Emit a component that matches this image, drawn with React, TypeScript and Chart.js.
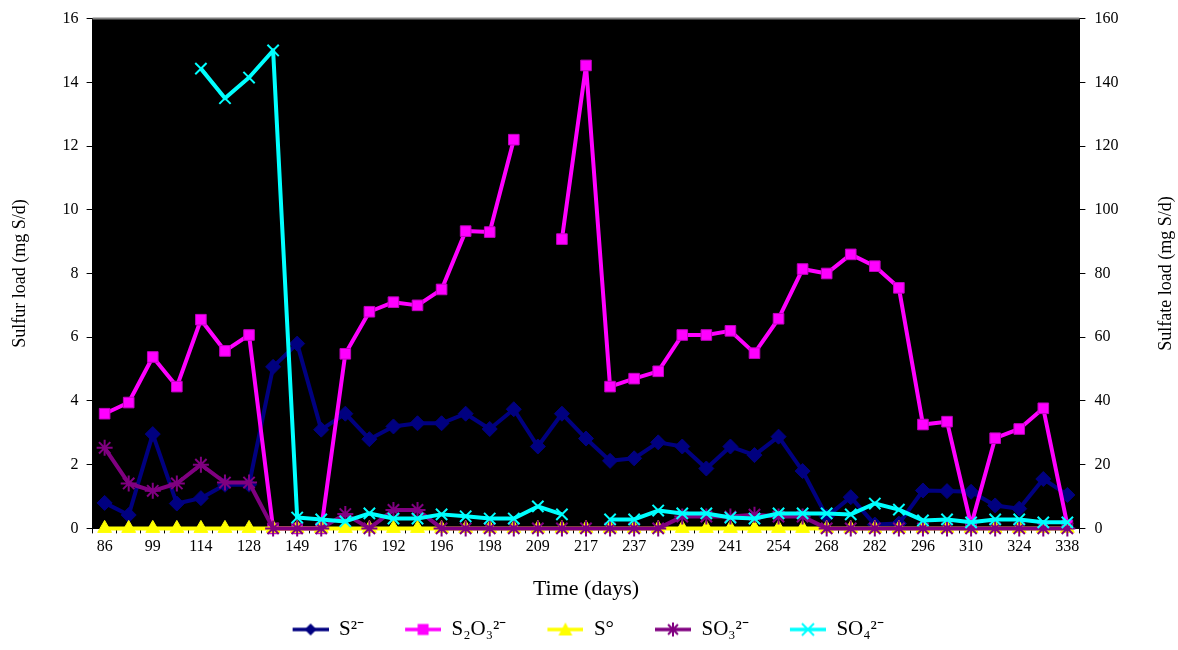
import React, { useEffect, useRef } from 'react';
import { Chart, registerables } from 'chart.js';

Chart.register(...registerables);

const FONT = '"Liberation Serif", "Times New Roman", Times, serif';

// Category labels (every other day label is shown in the original)
const dayLabels = [
  '86', '', '99', '', '114', '', '128', '', '149', '', '176', '', '192', '', '196', '', '198', '', '209', '', '217',
  '', '237', '', '239', '', '241', '', '254', '', '268', '', '282', '', '296', '', '310', '', '324', '', '338',
];

// Left axis series (mg S/d)
const sulfide = [
  0.8, 0.42, 2.96, 0.78, 0.95, 1.37, 1.37, 5.07, 5.8, 3.1, 3.6, 2.8, 3.2, 3.3, 3.3, 3.6, 3.12, 3.74, 2.57, 3.6, 2.82,
  2.12, 2.2, 2.7, 2.57, 1.88, 2.57, 2.3, 2.88, 1.8, 0.37, 0.98, 0.12, 0.15, 1.19, 1.17, 1.15, 0.72, 0.62, 1.55, 1.05,
];
const thiosulfate = [
  3.6, 3.95, 5.38, 4.45, 6.55, 5.57, 6.07, 0, 0, 0, 5.48, 6.8, 7.1, 7.0, 7.5, 9.33, 9.3, 12.2, null, 9.08, 14.53,
  4.45, 4.7, 4.93, 6.07, 6.07, 6.2, 5.5, 6.58, 8.14, 8.0, 8.6, 8.23, 7.55, 3.26, 3.35, 0.1, 2.83, 3.12, 3.77, 0.1,
];
const elementalS = [
  0, 0, 0, 0, 0, 0, 0, 0, 0, 0, 0, 0, 0, 0, 0, 0, 0, 0, 0, 0, 0,
  0, 0, 0, 0, 0, 0, 0, 0, 0, 0, 0, 0, 0, 0, 0, 0, 0, 0, 0, 0,
];
const sulfite = [
  2.53, 1.41, 1.18, 1.41, 2.0, 1.44, 1.44, 0, 0, 0, 0.45, 0, 0.58, 0.58, 0, 0, 0, 0, 0, 0, 0,
  0, 0, 0, 0.37, 0.37, 0.37, 0.43, 0.37, 0.37, 0, 0, 0, 0, 0, 0, 0, 0, 0, 0, 0,
];
// Right axis series (mg S/d)
const sulfate = [
  null, null, null, null, 144.3, 135, 141.5, 150, 3.4, 2.8, 2.2, 4.7, 3.1, 3.1, 4.4, 3.8, 3.1, 3.1, 6.9, 4.4, null,
  2.8, 2.8, 5.6, 4.7, 4.7, 3.4, 3.1, 4.7, 4.7, 4.7, 4.4, 7.8, 5.9, 2.5, 2.8, 1.9, 2.8, 2.8, 1.9, 1.9,
];

const seriesNames = ['S²⁻', 'S₂O₃²⁻', 'S°', 'SO₃²⁻', 'SO₄²⁻'];
const leftTitle = 'Sulfur load (mg S/d)';
const rightTitle = 'Sulfate load (mg S/d)';
const xTitle = 'Time (days)';

const NAVY = '#000080';
const MAGENTA = '#FF00FF';
const YELLOW = '#FFFF00';
const PURPLE = '#800080';
const CYAN = '#00FFFF';

function makeIcon(color: string, kind: string): HTMLCanvasElement {
  const c = document.createElement('canvas');
  c.width = 66;
  c.height = 18;
  const ctx = c.getContext('2d')!;
  ctx.strokeStyle = color;
  ctx.fillStyle = color;
  ctx.lineWidth = 3.5;
  ctx.beginPath();
  ctx.moveTo(30, 9);
  ctx.lineTo(66, 9);
  ctx.stroke();
  const cx = 48;
  const cy = 9;
  ctx.lineWidth = 2;
  if (kind === 'diamond') {
    ctx.beginPath();
    ctx.moveTo(cx, cy - 6);
    ctx.lineTo(cx + 6, cy);
    ctx.lineTo(cx, cy + 6);
    ctx.lineTo(cx - 6, cy);
    ctx.closePath();
    ctx.fill();
  } else if (kind === 'square') {
    ctx.fillRect(cx - 5.5, cy - 5.5, 11, 11);
  } else if (kind === 'triangle') {
    ctx.beginPath();
    ctx.moveTo(cx, cy - 7);
    ctx.lineTo(cx + 7, cy + 6);
    ctx.lineTo(cx - 7, cy + 6);
    ctx.closePath();
    ctx.fill();
  } else if (kind === 'star') {
    ctx.beginPath();
    for (let k = 0; k < 4; k++) {
      const a = (k * Math.PI) / 4;
      ctx.moveTo(cx - 7 * Math.cos(a), cy - 7 * Math.sin(a));
      ctx.lineTo(cx + 7 * Math.cos(a), cy + 7 * Math.sin(a));
    }
    ctx.stroke();
  } else if (kind === 'cross') {
    ctx.beginPath();
    ctx.moveTo(cx - 6, cy - 6);
    ctx.lineTo(cx + 6, cy + 6);
    ctx.moveTo(cx + 6, cy - 6);
    ctx.lineTo(cx - 6, cy + 6);
    ctx.stroke();
  }
  return c;
}

const chartDecor = {
  id: 'chartDecor',
  beforeDraw(chart: any) {
    const { ctx, chartArea: a } = chart;
    ctx.save();
    ctx.fillStyle = '#000000';
    ctx.fillRect(a.left, a.top, a.right - a.left, a.bottom - a.top);
    ctx.restore();
  },
  afterDraw(chart: any) {
    const { ctx, chartArea: a } = chart;
    ctx.save();
    ctx.strokeStyle = '#808080';
    ctx.lineWidth = 2;
    ctx.beginPath();
    ctx.moveTo(a.left, a.top);
    ctx.lineTo(a.right, a.top);
    ctx.stroke();
    const s = chart.scales.y1;
    ctx.translate(s.right - 1 - 10.8, (a.top + a.bottom) / 2);
    ctx.rotate(-Math.PI / 2);
    ctx.font = `18px ${FONT}`;
    ctx.fillStyle = '#000000';
    ctx.textAlign = 'center';
    ctx.textBaseline = 'middle';
    ctx.fillText(rightTitle, 0, 0);
    ctx.restore();
  },
};

export default function App() {
  const ref = useRef<HTMLCanvasElement | null>(null);

  useEffect(() => {
    document.body.style.margin = '0';
    const icons = [
      makeIcon(NAVY, 'diamond'),
      makeIcon(MAGENTA, 'square'),
      makeIcon(YELLOW, 'triangle'),
      makeIcon(PURPLE, 'star'),
      makeIcon(CYAN, 'cross'),
    ];
    const common = { borderWidth: 4, tension: 0, spanGaps: false, clip: false as any, borderJoinStyle: 'round' as const };
    const chart = new Chart(ref.current!, {
      type: 'line',
      data: {
        labels: dayLabels,
        datasets: [
          {
            ...common,
            label: seriesNames[0],
            data: sulfide,
            borderColor: NAVY,
            backgroundColor: NAVY,
            pointStyle: 'rectRot',
            pointRadius: 7.5,
            pointBorderWidth: 1,
            yAxisID: 'y',
            order: 5,
          },
          {
            ...common,
            label: seriesNames[1],
            data: thiosulfate,
            borderColor: MAGENTA,
            backgroundColor: MAGENTA,
            pointBorderColor: '#C000C0',
            pointStyle: 'rect',
            pointRadius: 7.5,
            pointBorderWidth: 1,
            yAxisID: 'y',
            order: 4,
          },
          {
            ...common,
            label: seriesNames[2],
            data: elementalS,
            borderColor: YELLOW,
            backgroundColor: YELLOW,
            pointStyle: 'triangle',
            pointRadius: 8,
            pointBorderWidth: 1,
            yAxisID: 'y',
            order: 3,
          },
          {
            ...common,
            label: seriesNames[3],
            data: sulfite,
            borderColor: PURPLE,
            backgroundColor: PURPLE,
            pointStyle: 'star',
            pointRadius: 8,
            pointBorderWidth: 2,
            yAxisID: 'y',
            order: 2,
          },
          {
            ...common,
            label: seriesNames[4],
            data: sulfate,
            borderColor: CYAN,
            backgroundColor: CYAN,
            pointStyle: 'crossRot',
            pointRadius: 8,
            pointBorderWidth: 2,
            yAxisID: 'y1',
            order: 1,
          },
        ],
      },
      options: {
        animation: false,
        responsive: true,
        maintainAspectRatio: false,
        layout: { padding: { left: 0, right: 0, top: 16, bottom: 0 } },
        plugins: {
          tooltip: { enabled: false },
          legend: {
            position: 'bottom',
            labels: {
              usePointStyle: true,
              pointStyleWidth: 66,
              padding: 11,
              color: '#000000',
              font: { family: FONT, size: 21 },
              sort: (a: any, b: any) => a.datasetIndex - b.datasetIndex,
              generateLabels: (c: any) => {
                const items = (Chart.defaults.plugins.legend.labels as any).generateLabels(c);
                items.forEach((it: any) => {
                  it.pointStyle = icons[it.datasetIndex];
                  it.lineWidth = 0;
                  if (it.datasetIndex === 4) it.text = it.text + '      ';
                });
                return items;
              },
            },
          },
        },
        scales: {
          x: {
            type: 'category',
            offset: true,
            grid: { offset: true, drawOnChartArea: false, drawTicks: true, tickLength: 5, color: '#000000' },
            border: { color: '#000000', width: 1 },
            ticks: { autoSkip: false, maxRotation: 0, color: '#000000', padding: 4, font: { family: FONT, size: 16 } },
            title: {
              display: true,
              text: xTitle,
              color: '#000000',
              font: { family: FONT, size: 22 },
              padding: { top: 15, bottom: 6 },
            },
          },
          y: {
            position: 'left',
            min: 0,
            max: 16,
            grid: { drawOnChartArea: false, drawTicks: true, tickLength: 6, color: '#000000' },
            border: { color: '#000000', width: 1 },
            ticks: { stepSize: 2, color: '#000000', padding: 8, font: { family: FONT, size: 16 } },
            title: {
              display: true,
              text: leftTitle,
              color: '#000000',
              font: { family: FONT, size: 18 },
              padding: { top: 9, bottom: 24 },
            },
          },
          y1: {
            position: 'right',
            min: 0,
            max: 160,
            grid: { drawOnChartArea: false, drawTicks: true, tickLength: 6, color: '#000000' },
            border: { color: '#000000', width: 1 },
            ticks: { stepSize: 20, color: '#000000', padding: 9, font: { family: FONT, size: 16 } },
            title: {
              display: true,
              text: rightTitle,
              color: 'rgba(0,0,0,0)',
              font: { family: FONT, size: 18 },
              padding: { top: 1, bottom: 28 },
            },
          },
        },
      } as any,
      plugins: [chartDecor],
    });
    return () => chart.destroy();
  }, []);

  return (
    <div style={{ position: 'relative', width: 1178, height: 650 }}>
      <canvas ref={ref} />
    </div>
  );
}
